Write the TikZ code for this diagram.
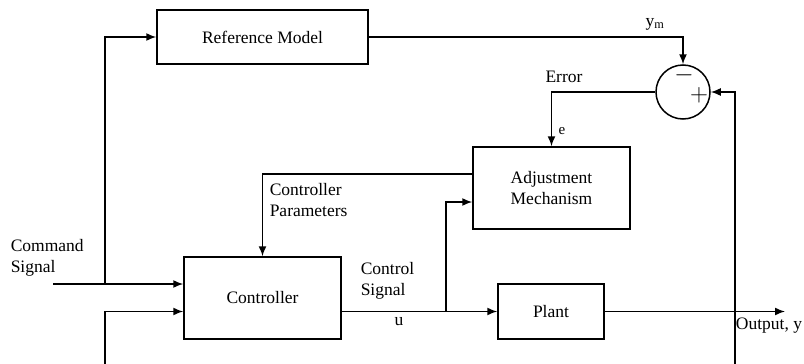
\documentclass[tikz,border=0pt]{standalone}
\usepackage{fontspec}
\setmainfont{Liberation Serif}
\usetikzlibrary{arrows.meta}
\usetikzlibrary{calc}
\usetikzlibrary{positioning}

\begin{document}
\begin{tikzpicture}[x=1pt, y=-1pt, line width=1.5pt,
    >={Latex[length=10pt,width=8pt]},
    font=\fontsize{17.5}{21}\selectfont]
  \tikzset{block/.style={draw, rectangle, align=center, inner sep=2pt}}
  \tikzset{lbl/.style={align=left, inner sep=0pt}}
  \tikzset{sign/.style={inner sep=0pt, font=\fontsize{26}{26}\selectfont}}

  \useasboundingbox (0,0) rectangle (804,364);

  % blocks
  \node[block, minimum width=211pt, minimum height=54pt] (refmodel) at (262.5,37) {Reference Model};
  \node[draw, circle, minimum size=54pt, inner sep=0pt] (sum) at (683,92) {};
  \node[block, minimum width=157pt, minimum height=82pt] (adjust) at (551.5,188) {Adjustment\\Mechanism};
  \node[block, minimum width=157pt, minimum height=82pt] (ctrl) at (262.5,298) {Controller};
  \node[block, minimum width=106pt, minimum height=55pt] (plant) at (551,311.5) {Plant};

  % free ends and branch points
  \coordinate (cmd) at (53,284);
  \coordinate (split1) at (105,284);
  \coordinate (inbot) at (105,364);
  \coordinate (split2) at (446,311.5);
  \coordinate (fbbot) at (735,364);
  \coordinate (out) at (785,311.5);

  % signs in the summing junction
  \node[sign] (minus) at (684,75) {$-$};
  \node[sign] (plus) at (699,95) {$+$};

  % connectors
  \draw[->] (cmd) -- (ctrl.west |- cmd);
  \draw[->] (split1) |- (refmodel.west);
  \draw[->] (inbot) |- (ctrl.west |- plant.west);
  \draw[->] (ctrl.east |- plant.west) -- (plant.west);
  \draw[->] (split2) |- ($(adjust.west)+(0,14)$);
  \draw[->] ($(adjust.west)+(0,-14)$) -| (ctrl.north);
  \draw[->] (refmodel.east) -| (sum.north);
  \draw[->] (sum.west) -| (adjust.north);
  \draw[->] (fbbot) |- (sum.east);
  \draw[->] (plant.east) -- (out);

  % labels
  \node[lbl] (ymlbl) at (655,24) {y\textsubscript{m}};
  \node[lbl] (errlbl) at (564,77) {Error};
  \node[lbl, font=\fontsize{15}{16}\selectfont] (elbl) at (562,131) {e};
  \node[lbl, anchor=west] (parlbl) at (269,200) {Controller\\Parameters};
  \node[lbl, anchor=west] (cmdlbl) at (10,258) {Command\\Signal};
  \node[lbl, anchor=west] (siglbl) at (360,281) {Control\\Signal};
  \node[lbl] (ulbl) at (399,322) {u};
  \node[lbl] (outlbl) at (769,326) {Output, y};
\end{tikzpicture}
\end{document}
